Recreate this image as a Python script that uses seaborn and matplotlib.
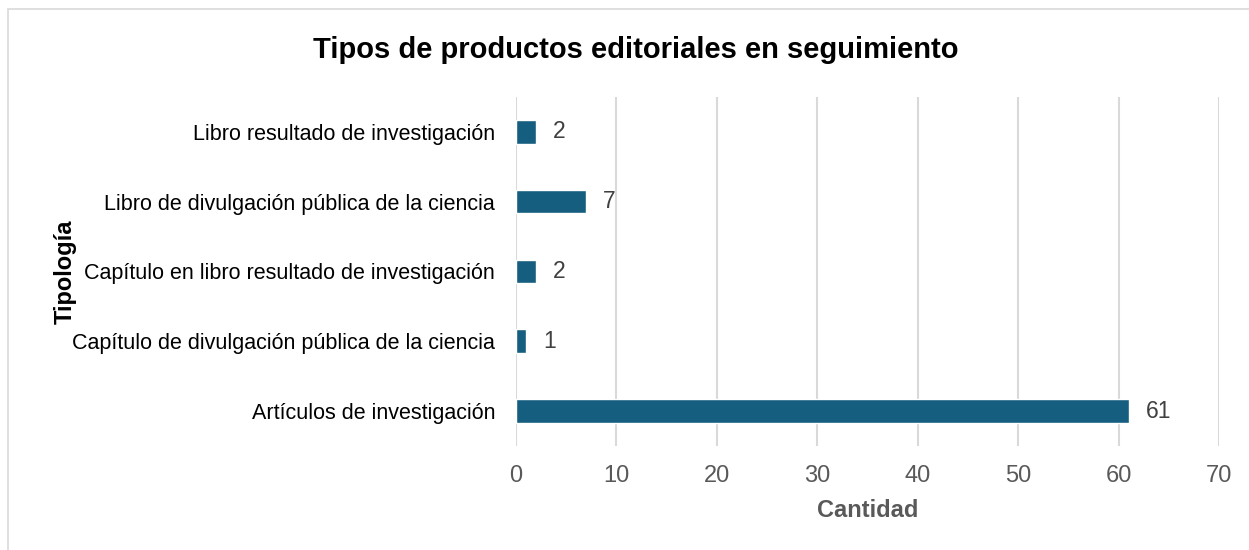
import matplotlib
matplotlib.use("Agg")
import matplotlib.pyplot as plt
import seaborn as sns
import pandas as pd
from matplotlib.patches import Rectangle

tipologias = [
    "Libro resultado de investigación",
    "Libro de divulgación pública de la ciencia",
    "Capítulo en libro resultado de investigación",
    "Capítulo de divulgación pública de la ciencia",
    "Artículos de investigación",
]
cantidades = [2, 7, 2, 1, 61]
ticks_x = [0, 10, 20, 30, 40, 50, 60, 70]

df = pd.DataFrame({"Tipología": tipologias, "Cantidad": cantidades})

sns.set_style("white")
plt.rcParams["font.family"] = ["Liberation Sans", "DejaVu Sans"]

fig = plt.figure(figsize=(12.49, 5.5), dpi=100)
ax = fig.add_axes([0.413, 0.189, 0.563, 0.635])

sns.barplot(data=df, x="Cantidad", y="Tipología", order=tipologias,
            color="#165E80", width=0.34, saturation=1, ax=ax)

for i, v in enumerate(cantidades):
    ax.text(v + 1.7, i, str(v), va="center", ha="left", fontsize=16.5, color="#404040")

ax.set_xlim(0, 70)
ax.set_xticks(ticks_x)
ax.set_ylim(len(tipologias) - 0.5, -0.5)
ax.grid(True, axis="x", color="#D9D9D9", linewidth=1.5)
ax.set_axisbelow(True)
for s in ax.spines.values():
    s.set_visible(False)
ax.tick_params(axis="x", labelsize=17, labelcolor="#595959", length=0, pad=14)
ax.tick_params(axis="y", labelsize=15.5, labelcolor="black", length=0, pad=15)

ax.set_xlabel("Cantidad", fontsize=17, fontweight="bold", color="#595959", labelpad=8)
ax.set_ylabel("Tipología", fontsize=17, fontweight="bold", color="black")
ax.yaxis.set_label_coords(-0.625, 0.5)

fig.suptitle("Tipos de productos editoriales en seguimiento", fontsize=21,
             fontweight="bold", color="black", x=0.509, y=0.935)

fig.patches.append(Rectangle((8 / 1249, -0.05), 1.0, 1.05 - 9 / 550,
                             transform=fig.transFigure, fill=False,
                             edgecolor="#D9D9D9", linewidth=1.2))

fig.savefig("out.png", dpi=100)
